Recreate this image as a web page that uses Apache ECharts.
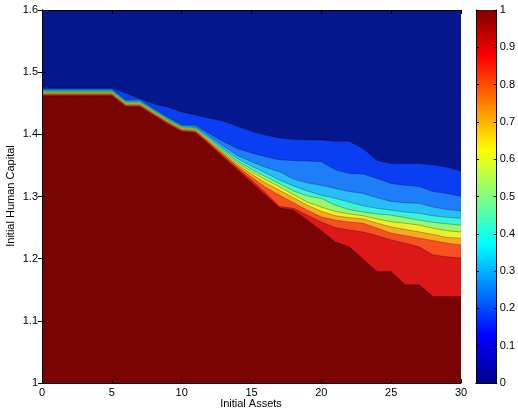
<!DOCTYPE html>
<html><head><meta charset="utf-8">
<script src="https://cdn.jsdelivr.net/npm/echarts@6/dist/echarts.min.js"></script>
<style>html,body{margin:0;padding:0;background:#fff}#c{width:518px;height:409px}</style>
</head><body><div id="c"></div>
<script>
// Initial assets (x grid)
const assets = [0,1,2,3,4,5,6,7,8,9,10,11,12,13,14,15,16,17,18,19,20,21,22,23,24,25,26,27,28,29,30];
// Contour boundaries (initial human capital) for each probability level
const p10 = [1.4745,1.4745,1.4745,1.4745,1.4745,1.4745,1.4665,1.4575,1.449,1.444,1.436,1.431,1.426,1.421,1.413,1.405,1.399,1.394,1.392,1.391,1.391,1.389,1.389,1.377,1.358,1.353,1.353,1.353,1.351,1.347,1.341];
const p20 = [1.4731,1.4731,1.4731,1.4731,1.4731,1.4731,1.456,1.4565,1.442,1.428,1.416,1.415,1.401,1.388,1.377,1.370,1.364,1.359,1.358,1.357,1.356,1.343,1.337,1.336,1.329,1.321,1.318,1.316,1.308,1.305,1.300];
const p30 = [1.4717,1.4717,1.4717,1.4717,1.4717,1.4717,1.4545,1.4545,1.4405,1.4265,1.4145,1.4125,1.397,1.381,1.366,1.356,1.347,1.340,1.328,1.322,1.318,1.313,1.308,1.305,1.298,1.292,1.290,1.289,1.283,1.279,1.277];
const p40 = [1.4702,1.4702,1.4702,1.4702,1.4702,1.4702,1.453,1.453,1.439,1.425,1.413,1.411,1.3945,1.3765,1.361,1.349,1.338,1.3265,1.317,1.309,1.302,1.297,1.291,1.285,1.281,1.278,1.275,1.273,1.269,1.2665,1.265];
const p50 = [1.4688,1.4688,1.4688,1.4688,1.4688,1.4688,1.4515,1.4515,1.4375,1.4235,1.4115,1.4095,1.3925,1.3735,1.357,1.344,1.332,1.321,1.309,1.301,1.297,1.286,1.279,1.275,1.272,1.270,1.266,1.262,1.2585,1.256,1.254];
const p60 = [1.4674,1.4674,1.4674,1.4674,1.4674,1.4674,1.450,1.450,1.436,1.422,1.410,1.408,1.3905,1.371,1.354,1.340,1.327,1.316,1.303,1.291,1.283,1.276,1.272,1.269,1.264,1.2595,1.257,1.254,1.249,1.245,1.243];
const p70 = [1.4660,1.4660,1.4660,1.4660,1.4660,1.4660,1.4485,1.4485,1.4345,1.4205,1.4085,1.4065,1.3885,1.369,1.351,1.336,1.322,1.310,1.298,1.286,1.276,1.269,1.266,1.264,1.257,1.251,1.247,1.243,1.239,1.234,1.233];
const p80 = [1.4645,1.4645,1.4645,1.4645,1.4645,1.4645,1.447,1.447,1.433,1.419,1.407,1.405,1.3865,1.367,1.348,1.331,1.315,1.302,1.290,1.278,1.267,1.262,1.259,1.257,1.249,1.241,1.237,1.233,1.229,1.225,1.222];
const p90 = [1.4631,1.4631,1.4631,1.4631,1.4631,1.4631,1.4455,1.4455,1.4315,1.4175,1.4055,1.4035,1.3845,1.3645,1.345,1.326,1.306,1.284,1.281,1.270,1.259,1.250,1.246,1.243,1.237,1.230,1.225,1.219,1.206,1.203,1.201];
const p100 = [1.4617,1.4617,1.4617,1.4617,1.4617,1.4617,1.444,1.444,1.430,1.416,1.404,1.402,1.3825,1.3624,1.3423,1.3222,1.3021,1.282,1.278,1.262,1.245,1.227,1.219,1.199,1.179,1.179,1.158,1.158,1.139,1.139,1.139];
const levels = [p10,p20,p30,p40,p50,p60,p70,p80,p90,p100];
const levelValues = [0.1,0.2,0.3,0.4,0.5,0.6,0.7,0.8,0.9,1.0];

const bandBase = '#04178c';
const bandColors = ['#0a3ef2','#1e7ef8','#28bdf8','#3cf3da','#96f870','#f0f028','#fca824','#f85020','#dc1818','#7a0404'];

const FONT = 'Liberation Sans';
const chart = echarts.init(document.getElementById('c'), null, {renderer:'canvas'});
const fmt1 = v => String(Math.round(v*10)/10);

const series = levels.map((arr, i) => ({
  type: 'line',
  name: String(levelValues[i]),
  xAxisIndex: 0, yAxisIndex: 0,
  data: assets.map((x, j) => [x, arr[j]]),
  showSymbol: false, silent: true, smooth: false,
  lineStyle: {color: '#000', width: 0.5, opacity: 0.55},
  areaStyle: {color: bandColors[i], opacity: 1, origin: 'start'},
  z: 2
}));

series.push({
  type: 'bar', xAxisIndex: 2, yAxisIndex: 2, silent: true,
  data: [1], barWidth: '100%',
  itemStyle: {color: new echarts.graphic.LinearGradient(0, 1, 0, 0, [
    {offset: 0, color: '#00008f'},
    {offset: 0.125, color: '#0000ff'},
    {offset: 0.375, color: '#00ffff'},
    {offset: 0.625, color: '#ffff00'},
    {offset: 0.875, color: '#ff0000'},
    {offset: 1, color: '#800000'}
  ])},
  z: 2
});

const axisCommon = {
  axisLine: {show: true, lineStyle: {color: '#000', width: 1}},
  splitLine: {show: false},
  z: 10
};

chart.setOption({
  animation: false,
  backgroundColor: '#fff',
  textStyle: {fontFamily: FONT},
  grid: [
    {left: 42, top: 10, width: 419, height: 373, show: true, backgroundColor: bandBase, borderWidth: 0},
    {left: 476, top: 10, width: 21, height: 373, show: false}
  ],
  xAxis: [
    Object.assign({}, axisCommon, {type: 'value', gridIndex: 0, min: 0, max: 30, interval: 5, position: 'bottom',
      axisTick: {show: true, inside: true, length: 4, lineStyle: {color: '#000'}},
      axisLabel: {show: true, color: '#000', fontSize: 11, fontFamily: FONT, margin: 4}}),
    Object.assign({}, axisCommon, {type: 'value', gridIndex: 0, min: 0, max: 30, interval: 5, position: 'top',
      axisTick: {show: true, inside: true, length: 4, lineStyle: {color: '#000'}},
      axisLabel: {show: false}}),
    Object.assign({}, axisCommon, {type: 'category', gridIndex: 1, data: ['c'], position: 'bottom',
      axisTick: {show: false}, axisLabel: {show: false}}),
    Object.assign({}, axisCommon, {type: 'category', gridIndex: 1, data: ['c'], position: 'top',
      axisTick: {show: false}, axisLabel: {show: false}})
  ],
  yAxis: [
    Object.assign({}, axisCommon, {type: 'value', gridIndex: 0, min: 1, max: 1.6, interval: 0.1, position: 'left',
      axisTick: {show: true, inside: true, length: 4, lineStyle: {color: '#000'}},
      axisLabel: {show: true, color: '#000', fontSize: 11, fontFamily: FONT, margin: 4, formatter: fmt1}}),
    Object.assign({}, axisCommon, {type: 'value', gridIndex: 0, min: 1, max: 1.6, interval: 0.1, position: 'right',
      axisTick: {show: true, inside: true, length: 4, lineStyle: {color: '#000'}},
      axisLabel: {show: false}}),
    Object.assign({}, axisCommon, {type: 'value', gridIndex: 1, min: 0, max: 1, interval: 0.1, position: 'right',
      axisTick: {show: true, inside: true, length: 3, lineStyle: {color: '#000'}},
      axisLabel: {show: true, color: '#000', fontSize: 11, fontFamily: FONT, margin: 3, formatter: fmt1}}),
    Object.assign({}, axisCommon, {type: 'value', gridIndex: 1, min: 0, max: 1, interval: 0.1, position: 'left',
      axisTick: {show: true, inside: true, length: 3, lineStyle: {color: '#000'}},
      axisLabel: {show: false}})
  ],
  graphic: [
    {type: 'text', style: {text: 'Initial Assets', fill: '#000', font: '11px "Liberation Sans"', x: 251, y: 404, textAlign: 'center', textVerticalAlign: 'middle'}},
    {type: 'text', x: 11, y: 196, rotation: Math.PI/2, style: {text: 'Initial Human Capital', fill: '#000', font: '11px "Liberation Sans"', textAlign: 'center', textVerticalAlign: 'middle'}}
  ],
  series: series
});
</script>
</body></html>
